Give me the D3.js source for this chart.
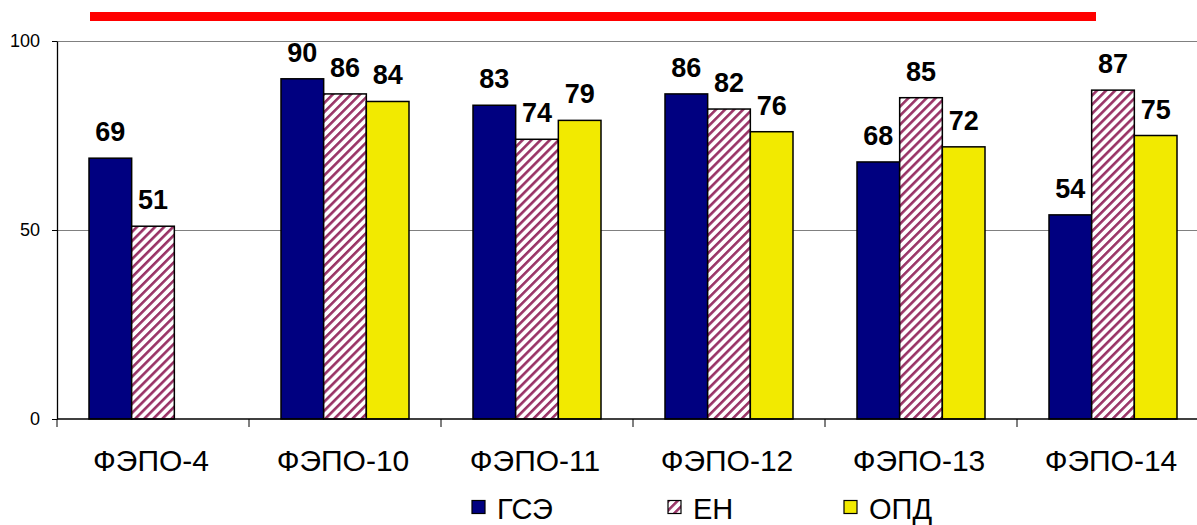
<!DOCTYPE html>
<html><head><meta charset="utf-8">
<script src="https://cdn.jsdelivr.net/npm/d3@7"></script>
<style>body{margin:0;background:#fff}svg{display:block}</style>
</head><body>
<svg id="c" width="1197" height="525"></svg>
<script>
const categories = ["ФЭПО-4","ФЭПО-10","ФЭПО-11","ФЭПО-12","ФЭПО-13","ФЭПО-14"];
const seriesNames = ["ГСЭ","ЕН","ОПД"];
const gse = [69,90,83,86,68,54];
const en  = [51,86,74,82,85,87];
const opd = [null,84,79,76,72,75];
const yTicks = [0,50,100];

(function(){
const FONT = "Arial, 'Liberation Sans', sans-serif";
const svg = d3.select("#c");
const defs = svg.append("defs");
const pat = defs.append("pattern").attr("id","hatch").attr("patternUnits","userSpaceOnUse")
  .attr("width",6.4).attr("height",6.4).attr("patternTransform","rotate(45)");
pat.append("rect").attr("width",6.4).attr("height",6.4).attr("fill","#fff");
pat.append("rect").attr("x",0).attr("width",2.6).attr("height",6.4).attr("fill","#993366");

const fills = ["#000080","url(#hatch)","#f2ea00"];
const data = [gse,en,opd];

const pLeft=57, pRight=57+192*6, pTop=41, pBottom=419;
const x = d3.scaleBand().domain(categories).range([pLeft,pRight]);
const xs = d3.scaleBand().domain(seriesNames).range([0,x.bandwidth()]).paddingInner(0).paddingOuter(0.75);
const y = d3.scaleLinear().domain([0,100]).range([pBottom,pTop]);

// red title bar
svg.append("rect").attr("x",90).attr("y",12).attr("width",1006).attr("height",9).attr("fill","#ff0000");

// gridlines
svg.append("g").selectAll("line").data(yTicks.filter(d=>d>0)).join("line")
  .attr("x1",pLeft).attr("x2",pRight).attr("y1",d=>Math.round(y(d))+0.5).attr("y2",d=>Math.round(y(d))+0.5)
  .attr("stroke","#808080").attr("stroke-width",1.2);

// y axis
const ya = svg.append("g").attr("transform",`translate(${pLeft},0)`)
  .call(d3.axisLeft(y).tickValues(yTicks).tickSize(5).tickPadding(12).tickSizeOuter(0));
ya.select(".domain").attr("stroke","#000").attr("stroke-width",1.3);
ya.selectAll(".tick line").attr("stroke","#000");
ya.selectAll("text").attr("font-family",FONT).attr("font-size",18).attr("fill","#000");

// bars
const g = svg.append("g");
seriesNames.forEach((s,si)=>{
  const vals = categories.map((c,i)=>({c,v:data[si][i]})).filter(d=>d.v!=null);
  g.selectAll(null).data(vals).join("rect")
    .attr("x",d=>x(d.c)+xs(s)).attr("width",xs.bandwidth())
    .attr("y",d=>y(d.v)).attr("height",d=>y(0)-y(d.v))
    .attr("fill",fills[si]).attr("stroke","#000").attr("stroke-width",1.5);
  g.selectAll(null).data(vals).join("text")
    .attr("x",d=>x(d.c)+xs(s)+xs.bandwidth()/2)
    .attr("y",d=>y(d.v)-17)
    .attr("text-anchor","middle")
    .attr("font-family",FONT).attr("font-weight","bold").attr("font-size",27)
    .text(d=>d.v);
});

// x axis
const xTickPos = d3.range(categories.length+1).map(i=>pLeft+i*x.step());
svg.append("line").attr("x1",pLeft).attr("x2",pRight).attr("y1",pBottom).attr("y2",pBottom).attr("stroke","#000").attr("stroke-width",1.3);
svg.append("g").selectAll("line").data(xTickPos).join("line")
  .attr("x1",d=>d).attr("x2",d=>d).attr("y1",pBottom).attr("y2",pBottom+8).attr("stroke","#000");
svg.append("g").selectAll("text").data(categories).join("text")
  .attr("x",d=>x(d)+x.bandwidth()/2-2).attr("y",471)
  .attr("text-anchor","middle").attr("font-family",FONT).attr("font-size",30)
  .text(d=>d);

// legend
const legX = [472,668,844];
const lg = svg.append("g");
seriesNames.forEach((s,i)=>{
  lg.append("rect").attr("x",legX[i]).attr("y",500.5).attr("width",13).attr("height",13)
    .attr("fill",fills[i]).attr("stroke","#000").attr("stroke-width",1.2);
  lg.append("text").attr("x",legX[i]+25).attr("y",519)
    .attr("font-family",FONT).attr("font-size",29).text(s);
});
})();
</script>
</body></html>
